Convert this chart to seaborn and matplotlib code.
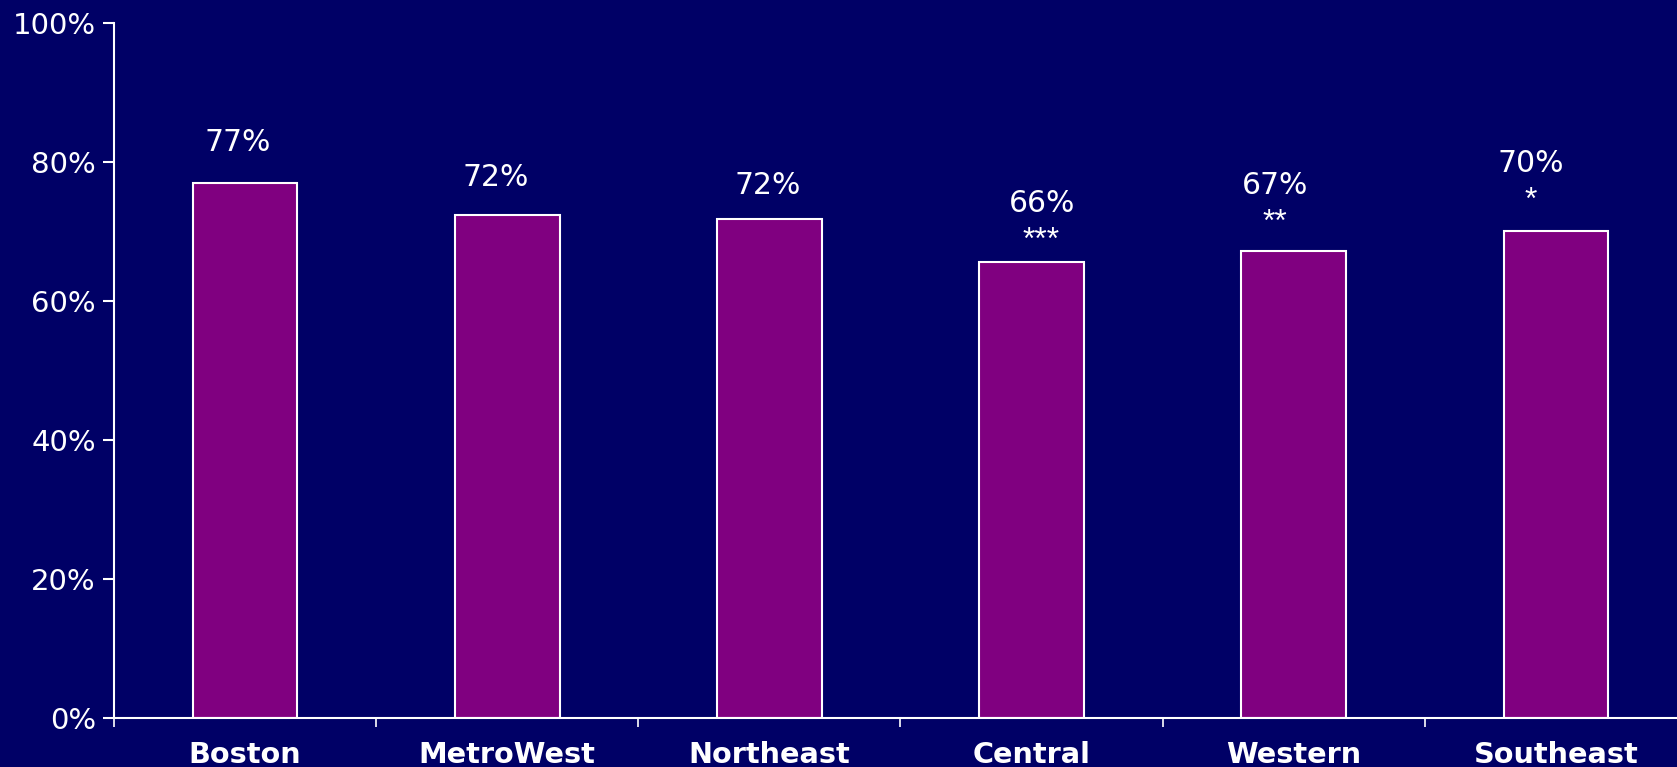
import matplotlib
matplotlib.use("Agg")
import matplotlib.pyplot as plt
import seaborn as sns
import pandas as pd

# Share of respondents by region
regions = ["Boston", "MetroWest", "Northeast", "Central", "Western", "Southeast"]
values = [77.0, 72.4, 71.8, 65.6, 67.2, 70.1]
significance = ["", "", "", "***", "**", "*"]
y_ticks = [0, 20, 40, 60, 80, 100]

# Label placement (pixels relative to bar top centre): value baseline and star baseline
label_dx = [-7, -11, -2, 10, -19, -25]
label_dy = [32, 29, 25, 50, 57, 59]
star_dy = [0, 0, 0, 13, 20, 22]

BG = "#000066"
BAR = "#800080"
FG = "white"

sns.set_theme(style="white")
plt.rcParams["font.family"] = ["DejaVu Sans"]

fig = plt.figure(figsize=(16.77, 7.67), dpi=100, facecolor=BG)
ax = fig.add_axes([0.0679, 0.0635, 0.9381, 0.9069])
ax.set_facecolor(BG)

df = pd.DataFrame({"region": regions, "value": values})
sns.barplot(data=df, x="region", y="value", color=BAR, saturation=1,
            edgecolor=FG, linewidth=1.5, width=0.4, ax=ax)

ax.set_xlim(-0.5, 5.5)
ax.set_ylim(0, 100)
ax.set_xlabel("")
ax.set_ylabel("")

ax.set_yticks(y_ticks)
ax.set_yticklabels([f"{t}%" for t in y_ticks])
ax.tick_params(axis="y", colors=FG, labelcolor=FG, labelsize=21,
               length=8, width=1.5, pad=5, direction="out", left=True)

ax.set_xticks(range(len(regions)))
ax.set_xticklabels(regions, fontsize=20.7, fontweight="bold", color=FG)
ax.tick_params(axis="x", which="major", length=0, pad=16)
ax.set_xticks([i - 0.5 for i in range(len(regions) + 1)], minor=True)
ax.tick_params(axis="x", which="minor", colors=FG, length=6.5, width=1.2,
               direction="out", bottom=True)

for side in ("top", "right"):
    ax.spines[side].set_visible(False)
for side in ("left", "bottom"):
    ax.spines[side].set_visible(True)
    ax.spines[side].set_color(FG)
    ax.spines[side].set_linewidth(1.5)
ax.grid(False)

for i, (v, sig) in enumerate(zip(values, significance)):
    ax.annotate(f"{v:.0f}%", xy=(i, v), xytext=(label_dx[i], label_dy[i]),
                textcoords="offset pixels", ha="center", va="baseline",
                color=FG, fontsize=21.5)
    if sig:
        ax.annotate(sig, xy=(i, v), xytext=(label_dx[i], star_dy[i]),
                    textcoords="offset pixels", ha="center", va="baseline",
                    color=FG, fontsize=23, family=["Liberation Sans"])

fig.savefig("out.png", dpi=100, facecolor=BG)
